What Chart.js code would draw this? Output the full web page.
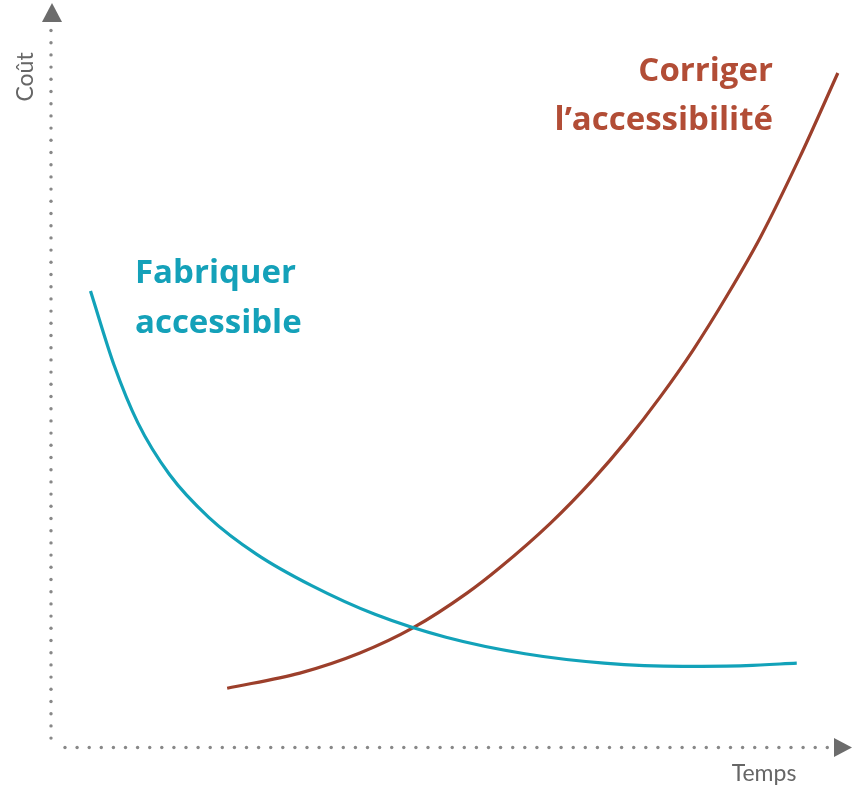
<!DOCTYPE html>
<html>
<head>
<meta charset="utf-8">
<script src="https://cdn.jsdelivr.net/npm/chart.js@4/dist/chart.umd.min.js"></script>
<style>
  html, body { margin: 0; padding: 0; background: #ffffff; }
  #wrap { width: 854px; height: 800px; position: relative; }
</style>
</head>
<body>
<div id="wrap"><canvas id="c" width="854" height="800"></canvas></div>
<script>
// Time (0-100) and cost (0-100) values
const fabriquerTemps = [5, 8, 11, 15, 20, 26, 33, 41, 50, 60, 70, 80, 88, 94.4];
const fabriquerCout  = [63.6, 53.2, 45.2, 38.0, 32.0, 26.9, 22.5, 18.5, 15.3, 13.0, 11.7, 11.25, 11.35, 11.7];
const corrigerTemps  = [22.3, 31.5, 39.1, 45.8, 52.7, 56.8, 63.2, 68.6, 72.9, 77.1, 81.3, 85.6, 89.8, 94.8, 99.6];
const corrigerCout   = [8.2, 10.3, 13.1, 16.6, 21.5, 25.0, 31.2, 37.3, 42.8, 48.8, 55.4, 63.0, 71.1, 82.3, 94.0];
const seriesLabels = [["Fabriquer", "accessible"], ["Corriger", "l\u2019accessibilit\u00e9"]];
const axisTitles = { x: "Temps", y: "Co\u00fbt" };

const toPoints = (xs, ys) => xs.map((x, i) => ({ x: x, y: ys[i] }));

const TEAL = "#12a2b9";
const RUST = "#9c3f2b";
const TEAL_TXT = "#14a1b9";
const RUST_TXT = "#b24d36";
const AXIS = "#888888";

const decorations = {
  id: "decorations",
  beforeDatasetsDraw(chart) {
    const { ctx, chartArea: a } = chart;
    ctx.save();
    ctx.fillStyle = AXIS;
    // dotted y axis
    for (let y = a.top + 0.5; y <= a.bottom - 6; y += 12.2) {
      ctx.beginPath(); ctx.arc(a.left, y, 1.7, 0, Math.PI * 2); ctx.fill();
    }
    // dotted x axis
    for (let x = a.left + 14; x <= a.right - 8; x += 12.1) {
      ctx.beginPath(); ctx.arc(x, a.bottom + 0.5, 1.7, 0, Math.PI * 2); ctx.fill();
    }
    // arrow heads
    ctx.fillStyle = "#6c6c6c";
    ctx.beginPath();
    ctx.moveTo(a.left + 1, a.top - 27);
    ctx.lineTo(a.left - 9, a.top - 8);
    ctx.lineTo(a.left + 11, a.top - 8);
    ctx.closePath(); ctx.fill();
    ctx.beginPath();
    ctx.moveTo(a.right + 11, a.bottom + 0.5);
    ctx.lineTo(a.right - 7, a.bottom - 9);
    ctx.lineTo(a.right - 7, a.bottom + 10);
    ctx.closePath(); ctx.fill();

    // axis titles
    ctx.fillStyle = "#666666";
    ctx.font = "400 23px Lato, 'Open Sans', sans-serif";
    ctx.textAlign = "center"; ctx.textBaseline = "alphabetic";
    ctx.fillText(axisTitles.x, a.right - 77, a.bottom + 34);
    ctx.save();
    ctx.translate(a.left - 18, a.top + 47);
    ctx.rotate(-Math.PI / 2);
    ctx.fillText(axisTitles.y, 0, 0);
    ctx.restore();

    // series labels
    ctx.font = "bold 33px 'Open Sans', Lato, sans-serif";
    ctx.textBaseline = "middle";
    ctx.fillStyle = TEAL_TXT; ctx.textAlign = "left";
    ctx.fillText(seriesLabels[0][0], a.left + 84, a.top + 244);
    ctx.fillText(seriesLabels[0][1], a.left + 84, a.top + 294);
    ctx.fillStyle = RUST_TXT; ctx.textAlign = "right";
    ctx.fillText(seriesLabels[1][0], a.left + 722, a.top + 42);
    ctx.fillText(seriesLabels[1][1], a.left + 722, a.top + 91);
    ctx.restore();
  }
};

new Chart(document.getElementById("c"), {
  type: "line",
  data: {
    datasets: [
      { label: seriesLabels[0].join(" "), data: toPoints(fabriquerTemps, fabriquerCout),
        borderColor: TEAL, borderWidth: 3.2, pointRadius: 0, fill: false,
        cubicInterpolationMode: "monotone", borderCapStyle: "butt" },
      { label: seriesLabels[1].join(" "), data: toPoints(corrigerTemps, corrigerCout),
        borderColor: RUST, borderWidth: 3.2, pointRadius: 0, fill: false,
        cubicInterpolationMode: "monotone", borderCapStyle: "butt" }
    ]
  },
  options: {
    responsive: false,
    animation: false,
    devicePixelRatio: 1,
    layout: { padding: { left: 51, right: 13, top: 30, bottom: 53 } },
    plugins: { legend: { display: false }, tooltip: { enabled: false }, title: { display: false } },
    scales: {
      x: { type: "linear", min: 0, max: 100, display: false },
      y: { type: "linear", min: 0, max: 100, display: false }
    }
  },
  plugins: [decorations]
});
</script>
</body>
</html>
